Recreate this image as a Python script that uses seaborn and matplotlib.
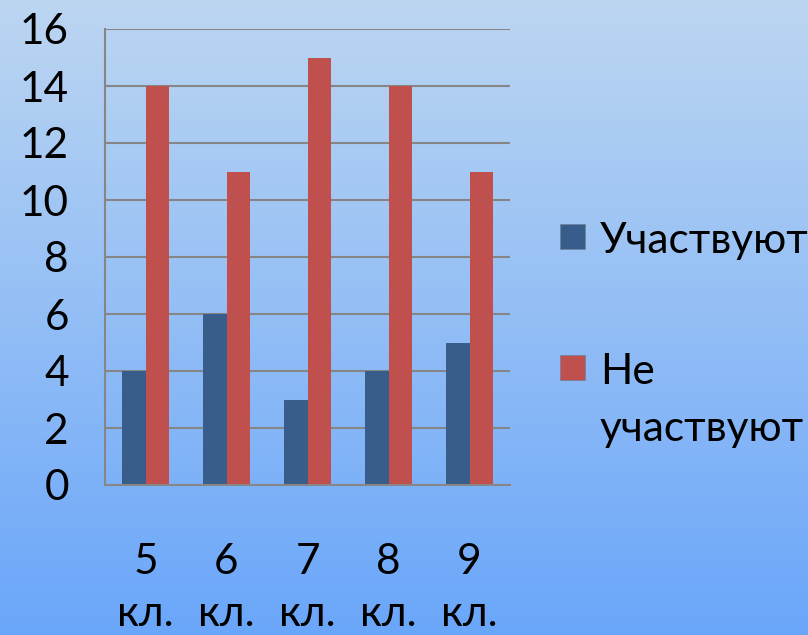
import numpy as np
import pandas as pd
import matplotlib
matplotlib.use("Agg")
import matplotlib.pyplot as plt
import seaborn as sns
from matplotlib.patches import Rectangle

# Data
grades = ["5\nкл.", "6\nкл.", "7\nкл.", "8\nкл.", "9\nкл."]
series_names = ["Участвуют", "Не\nучаствуют"]
participate = [4, 6, 3, 4, 5]
not_participate = [14, 11, 15, 14, 11]
y_ticks = [0, 2, 4, 6, 8, 10, 12, 14, 16]

colors = ["#385D8A", "#C0504D"]
grid_color = "#868686"

df = pd.DataFrame({
    "grade": grades * 2,
    "series": [series_names[0]] * len(grades) + [series_names[1]] * len(grades),
    "value": participate + not_participate,
})

sns.set_style("white")
plt.rcParams['font.family'] = ['Lato', 'DejaVu Sans']
FS = 30.5

fig = plt.figure(figsize=(8.08, 6.35), dpi=100)
W, H = 808, 635

# Gradient background
bg = fig.add_axes([0, 0, 1, 1], zorder=-10)
grad = np.linspace(0, 1, 256).reshape(-1, 1)
top = np.array([188, 214, 241]) / 255
bottom = np.array([106, 166, 250]) / 255
img = top + (bottom - top) * grad[:, :, None]
bg.imshow(img, aspect="auto", extent=[0, 1, 0, 1])
bg.axis("off")

ax = fig.add_axes([105 / W, 1 - 485 / H, 405 / W, 456 / H])
ax.patch.set_alpha(0)

sns.barplot(data=df, x="grade", y="value", hue="series", palette=colors,
            width=0.57, gap=0, saturation=1, edgecolor="none", legend=False, ax=ax)

ax.set_ylim(0, 16)
ax.set_xlim(-0.5, len(grades) - 0.5)
ax.set_yticks(y_ticks)
ax.yaxis.grid(True, color=grid_color, linewidth=1.5)
ax.set_axisbelow(True)

# category boundaries as tick marks, labels at centers
ax.set_xticks(np.arange(len(grades) + 1) - 0.5)
ax.set_xticklabels([])
ax.set_xticks(np.arange(len(grades)), minor=True)
ax.set_xticklabels(grades, minor=True, fontsize=FS, linespacing=1.43, color="black")
ax.tick_params(axis="x", which="major", length=12, width=1.5, color=grid_color, direction="out")
ax.tick_params(axis="x", which="minor", length=0, pad=42)
ax.tick_params(axis="y", length=12, width=1.5, color=grid_color, direction="out",
               labelsize=FS, labelcolor="black", pad=14)

for side in ["top", "right"]:
    ax.spines[side].set_visible(False)
for side in ["left", "bottom"]:
    ax.spines[side].set_color(grid_color)
    ax.spines[side].set_linewidth(1.5)

ax.set_xlabel("")
ax.set_ylabel("")

# Legend drawn by hand to keep the marker on the first line of the wrapped label
legend_rows = [(237, [series_names[0]]), (368, series_names[1].split("\n"))]
for color, (yc, lines) in zip(colors, legend_rows):
    fig.add_artist(Rectangle((560 / W, 1 - (yc + 12) / H), 25 / W, 25 / H,
                             transform=fig.transFigure, facecolor=color,
                             edgecolor="#6f7f99", linewidth=0.5))
    for i, line in enumerate(lines):
        fig.text(600 / W, 1 - (yc + i * 57) / H, line, fontsize=FS,
                 color="black", va="center_baseline", ha="left")

fig.savefig("out.png", dpi=100)
